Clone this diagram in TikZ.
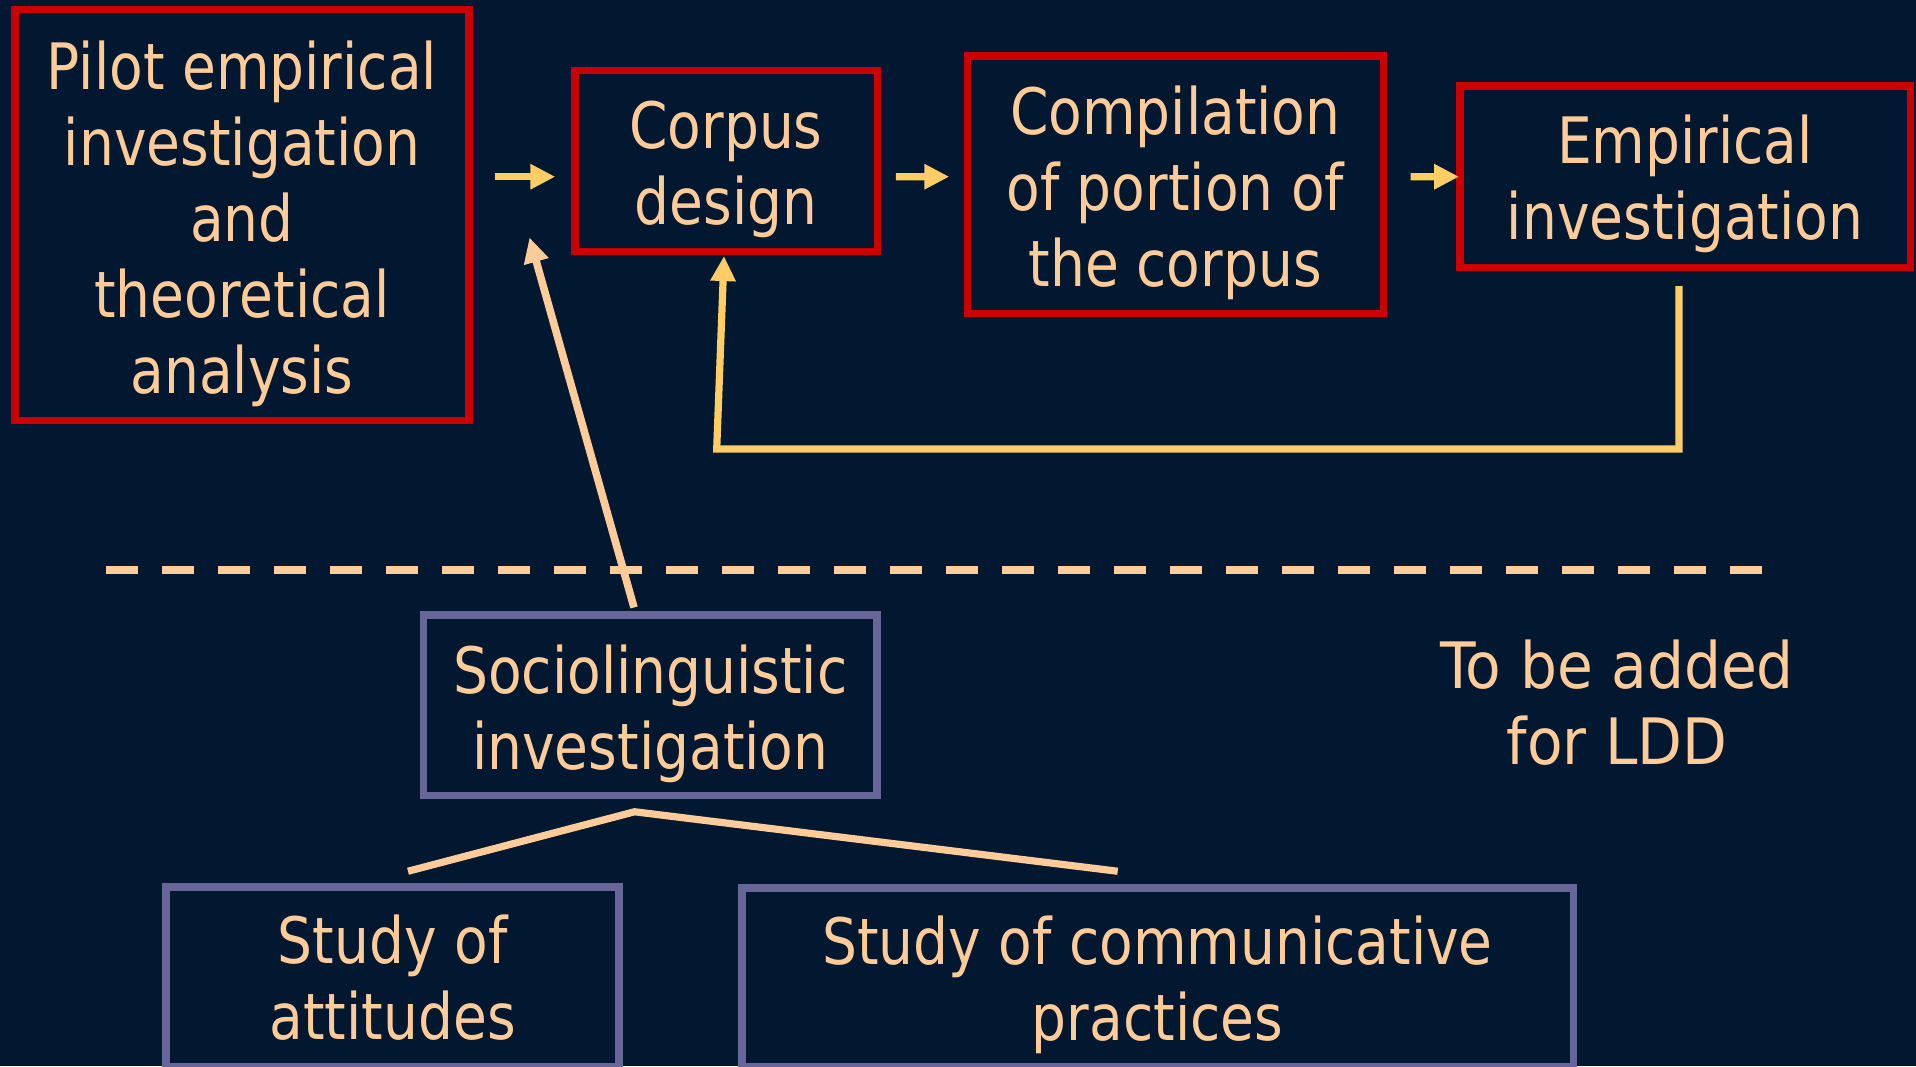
\documentclass[tikz,border=0pt]{standalone}
\usepackage{fontspec}
\setmainfont{DejaVu Sans}[FakeStretch=0.86]
\newfontfamily\lddfont{DejaVu Sans}[FakeStretch=0.91]
\usetikzlibrary{arrows.meta,calc}
\definecolor{bg}{RGB}{1,24,48}
\definecolor{boxred}{RGB}{204,0,0}
\definecolor{peach}{RGB}{255,204,153}
\definecolor{gold}{RGB}{255,204,102}
\definecolor{lilac}{RGB}{102,102,153}
\begin{document}
\begin{tikzpicture}[x=0.5pt,y=-0.5pt,
  redbox/.style={draw=boxred,line width=3.75pt,rectangle,inner sep=0pt},
  bluebox/.style={draw=lilac,line width=3.75pt,rectangle,inner sep=0pt},
  txt/.style={text=peach,align=center,inner sep=0pt,font=\fontsize{32}{38}\selectfont},
  flow/.style={draw=gold,line width=3.6pt,-{Triangle[length=12.5pt,width=12pt]}},
  flowp/.style={draw=peach,line width=3.8pt,-{Triangle[length=12.5pt,width=12pt]}},
  tree/.style={draw=peach,line width=3.6pt,line join=miter},
  sep/.style={draw=peach,line width=4pt,dash pattern=on 16pt off 12pt}]
\fill[bg] (0,0) rectangle (1916,1066);
\useasboundingbox (0,0) rectangle (1916,1066);
\clip (0,0) rectangle (1916,1066);

% boxes
\node[redbox,minimum width=227pt,minimum height=205.5pt] (pilot) at (242,215) {};
\node[redbox,minimum width=151.25pt,minimum height=90.4pt] (corpus) at (726,160.9) {};
\node[redbox,minimum width=207.95pt,minimum height=128.75pt] (compilation) at (1175.3,184.5) {};
\node[redbox,minimum width=225.25pt,minimum height=90.6pt] (empirical) at (1685,176.7) {};
\node[bluebox,minimum width=226.75pt,minimum height=90.4pt] (socio) at (650.3,705.2) {};
\node[bluebox,minimum width=226.5pt,minimum height=90pt] (attitudes) at (392.7,977) {};
\node[bluebox,minimum width=415.75pt,minimum height=89.65pt] (practices) at (1157.5,977.4) {};

% texts
\node[txt] (pilotT) at (242,223.5) {Pilot empirical\\investigation\\and\\theoretical\\analysis};
\node[txt] (corpusT) at (726,169.8) {Corpus\\design};
\node[txt] (compilationT) at (1175.3,192.8) {Compilation\\of portion of\\the corpus};
\node[txt] (empiricalT) at (1685,184.3) {Empirical\\investigation};
\node[txt] (socioT) at (650.3,714.1) {Sociolinguistic\\investigation};
\node[txt] (attitudesT) at (392.7,977.7) {Study of\\attitudes};
\node[txt] (practicesT) at (1157.5,985.3) {Study of communicative\\practices};
\node[txt,font=\lddfont\fontsize{32}{38}\selectfont] (ldd) at (1617,702.4) {To be added\\for LDD};

% separator
\draw[sep] (106,569.7) -- (1762.3,569.7);

% flow arrows
\draw[flow] ($(corpus.west)+(-75.75,15.8)$) -- ($(corpus.west)+(-15.75,15.8)$);
\draw[flow] ($(corpus.east)+(14.75,15.8)$) -- ($(compilation.west)+(-14.35,-7.8)$);
\draw[flow] ($(compilation.east)+(23.7,-7.8)$) -- ($(empirical.west)+(3,0)$);
\draw[flow] ($(empirical.south)+(-6,15)$) |- ($(corpus.south)+(-9.3,194)$) -- ($(corpus.south)+(-2,1)$);

% sociolinguistic input
\coordinate (dtip) at (529.5,237.5);
\draw[flowp] ($(socio.north)+(-16.3,-3.6)$) -- (dtip);

% tree
\draw[tree] ($(attitudes.north)+(15.3,-12)$) -- ($(socio.south)+(-15.7,12.4)$) -- ($(practices.north)+(-39.8,-12.75)$);
\end{tikzpicture}
\end{document}
